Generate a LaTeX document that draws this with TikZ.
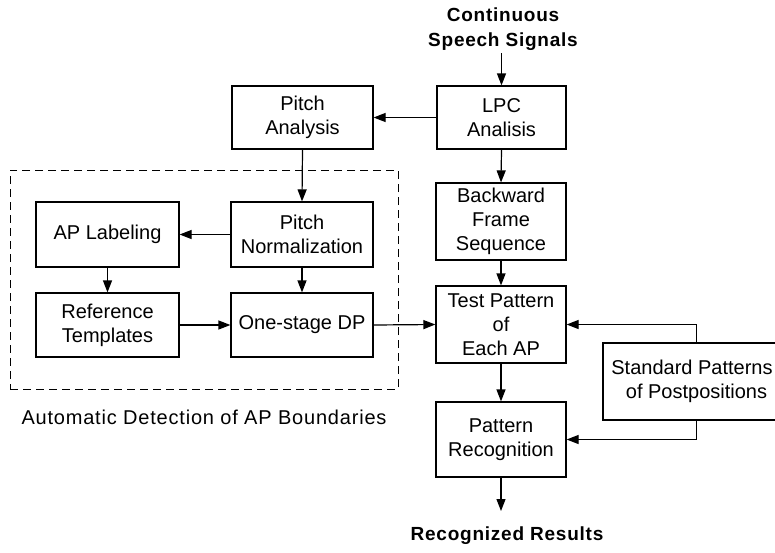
\documentclass[tikz,border=0pt]{standalone}
\usepackage{fontspec}
\setmainfont{Liberation Sans}
\newfontfamily\spacedfont[LetterSpace=4]{Liberation Sans}
\usetikzlibrary{arrows.meta}
\begin{document}
\begin{tikzpicture}[x=1pt,y=-1pt,
  every node/.style={font=\fontsize{20}{24}\selectfont, align=center, inner sep=0pt},
  blk/.style={draw, line width=1.2pt, rectangle},
  arr/.style={line width=1.2pt, -{Triangle[length=12pt,width=9pt]}}]
\useasboundingbox (0,0) rectangle (775,552);
\clip (0,0) rectangle (775,552);

% signal path
\node[blk, minimum width=129pt, minimum height=63pt] (lpc) at (501.5,117.5) {LPC\\Analisis};
\node[blk, minimum width=141pt, minimum height=63pt] (pa) at (302.5,117.5) {Pitch\\Analysis};
\node[blk, minimum width=130pt, minimum height=77pt] (bfs) at (501,221.5) {Backward\\Frame\\Sequence};
\node[blk, minimum width=130pt, minimum height=77pt] (test) at (501,324.5) {Test Pattern\\of\\Each AP};
\node[blk, minimum width=130pt, minimum height=75pt] (recog) at (501,439.5) {Pattern\\Recognition};
\node[blk, minimum width=187pt, minimum height=77pt] (std) at (696.5,381.5) {\hspace*{-9pt}Standard Patterns\\of Postpositions};

% AP boundary detection block
\node[blk, minimum width=143pt, minimum height=65pt] (apl) at (107.5,234.5) {AP Labeling};
\node[blk, minimum width=142pt, minimum height=65pt] (pn) at (302,234.5) {Pitch\\Normalization};
\node[blk, minimum width=143pt, minimum height=64pt] (ref) at (107.5,325) {Reference\\Templates};
\node[blk, minimum width=142pt, minimum height=64pt] (dp) at (302,325) {One-stage DP};
\node[draw, line width=1pt, dash pattern=on 8pt off 5pt, minimum width=388pt, minimum height=219pt] (grp) at (204,279.5) {};
\node[font=\fontsize{20}{24}\spacedfont] (cap) at (204,417) {Automatic Detection of AP Boundaries};

% input and output labels
\node[font=\fontsize{19}{25}\spacedfont\bfseries] (in) at (503,29) {Continuous\\Speech Signals};
\node[font=\fontsize{19}{24}\spacedfont\bfseries] (out) at (507,536) {Recognized Results};
\coordinate (inp) at (501.5,53);
\coordinate (outp) at (501,511);

% connectors
\draw[arr] (inp) -- (lpc.north);
\draw[arr] (lpc.west) -- (pa.east);
\draw[arr] (pa.south) -- (pn.north);
\draw[arr] (pn.west) -- (apl.east);
\draw[arr] (apl.south) -- (ref.north);
\draw[arr] (pn.south) -- (dp.north);
\draw[arr] (ref.east) -- (dp.west);
\draw[arr] (dp.east) -- (test.west);
\draw[arr] (lpc.south) -- (bfs.north);
\draw[arr] (bfs.south) -- (test.north);
\draw[arr] (test.south) -- (recog.north);
\draw[arr] (recog.south) -- (outp);
\draw[arr] (std.north) |- (test.east);
\draw[arr] (std.south) |- (recog.east);
\end{tikzpicture}
\end{document}
